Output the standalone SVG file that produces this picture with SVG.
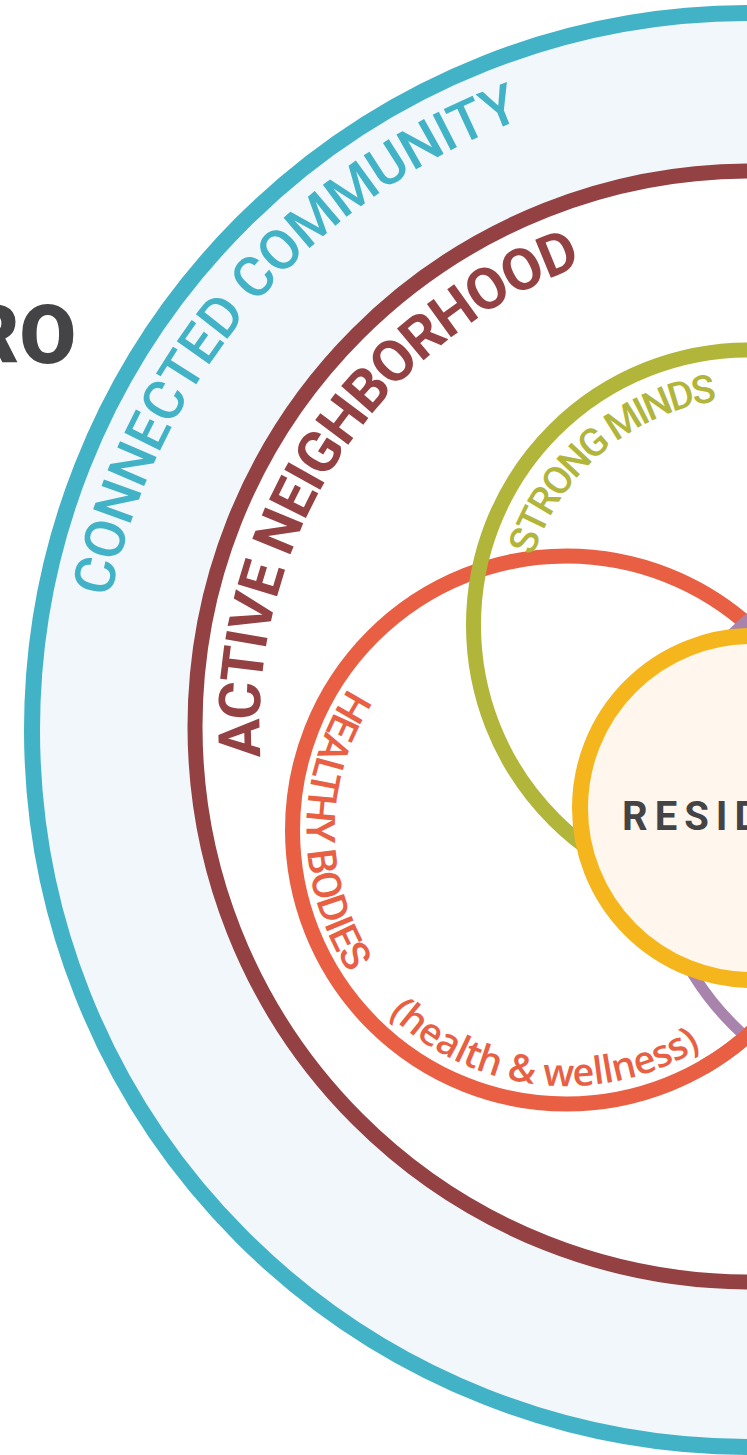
<svg xmlns="http://www.w3.org/2000/svg" xmlns:xlink="http://www.w3.org/1999/xlink" width="747" height="1455" viewBox="0 0 747 1455">
<style>
.ring{fill:none}
.lbl{font-family:Roboto,"Liberation Sans",sans-serif}
.teal{fill:#42b2c7;font-size:56px;font-weight:500;letter-spacing:-0.7px}
.maroon{fill:#934143;font-size:58px;font-weight:700;letter-spacing:-1.5px}
.green{fill:#b1b53a;font-size:39px;font-weight:500;letter-spacing:-2.8px}
.red{fill:#e85f43;font-size:40px;font-weight:500;letter-spacing:-1.3px}
.redsm{fill:#e85f43;font-family:"Open Sans","Liberation Sans",sans-serif;font-size:38px;font-weight:600;letter-spacing:-0.5px}
.dark{fill:#444446}
</style>
<defs>
<path id="pTeal" d="M110.6,597.8 A652,652 0 0 1 1075,165.4"/>
<path id="pMaroon" d="M260.5,757.3 A491,491 0 0 1 835.8,243.0"/>
<path id="pGreen" d="M533.2,556.3 A226,226 0 0 1 825.8,412.6"/>
<path id="pHealthy" d="M348.4,688.4 A260,260 0 0 0 521.4,1086.0"/>
<path id="pWell" d="M388.7,1014.2 A256,256 0 0 0 807.1,917.6"/>
</defs>
<rect width="747" height="1455" fill="#ffffff"/>
<g id="connected-community">
<circle cx="749" cy="730" r="717" fill="#f1f7fa" stroke="#42b2c7" stroke-width="16"/>
<text class="lbl teal"><textPath xlink:href="#pTeal" href="#pTeal">CONNECTED COMMUNITY</textPath></text>
</g>
<g id="active-neighborhood">
<circle cx="750.5" cy="726.5" r="555.5" fill="#ffffff" stroke="#934143" stroke-width="15"/>
<text class="lbl maroon"><textPath xlink:href="#pMaroon" href="#pMaroon">ACTIVE NEIGHBORHOOD</textPath></text>
</g>
<g id="healthy-bodies">
<circle class="ring" cx="566.5" cy="830" r="274" stroke="#e85f43" stroke-width="15"/>
<text class="lbl red"><textPath xlink:href="#pHealthy" href="#pHealthy">HEALTHY BODIES</textPath></text>
<text class="redsm"><textPath xlink:href="#pWell" href="#pWell">(health &amp; wellness)</textPath></text>
</g>
<g id="strong-minds">
<circle class="ring" cx="748.5" cy="625" r="275" stroke="#b1b53a" stroke-width="15"/>
<text class="lbl green"><textPath xlink:href="#pGreen" href="#pGreen">STRONG MINDS</textPath></text>
</g>
<g id="purple-circle">
<circle class="ring" cx="929" cy="829" r="277" stroke="#a883ac" stroke-width="11"/>
<path class="ring" d="M782.4,998.7 A274,274 0 0 1 703.5,1067.3" stroke="#e85f43" stroke-width="15"/>
</g>
<g id="residents">
<circle cx="752" cy="808" r="172" fill="#fff7ee" stroke="#f5b51c" stroke-width="16"/>
<text class="lbl dark" x="622" y="830" font-size="40" font-weight="700" letter-spacing="7">RESID</text>
</g>
<g id="title">
<text class="lbl dark" x="76" y="363" font-size="82" font-weight="900" text-anchor="end">RO</text>
</g>
</svg>
